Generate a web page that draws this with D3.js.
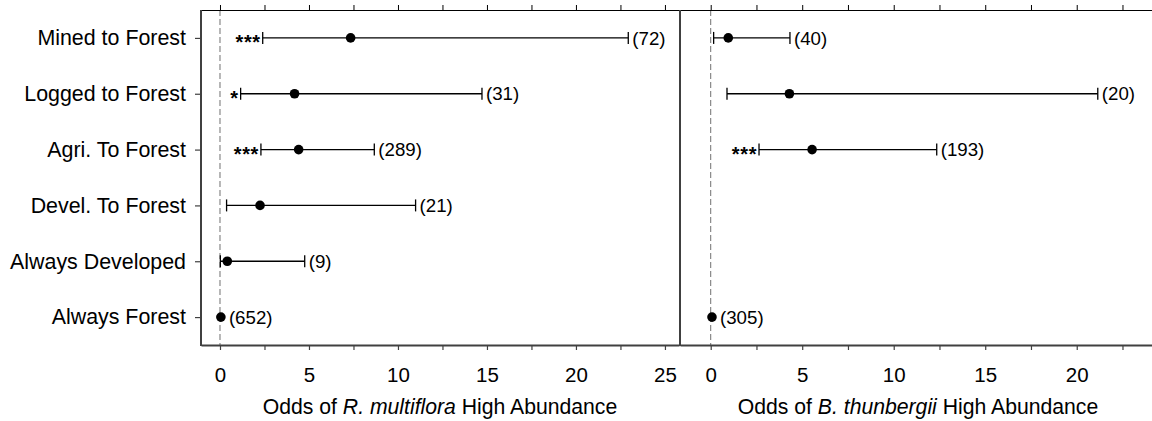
<!DOCTYPE html>
<html><head><meta charset="utf-8">
<script src="https://cdn.jsdelivr.net/npm/d3@7"></script>
<style>body{margin:0;background:#fff}svg{display:block}</style>
</head><body>
<svg id="c" width="1152" height="421"></svg>
<script>
const categories = ["Mined to Forest","Logged to Forest","Agri. To Forest","Devel. To Forest","Always Developed","Always Forest"];
// R. multiflora
const rmOdds  = [7.34, 4.19, 4.42, 2.25, 0.41, 0.05];
const rmLower = [2.40, 1.16, 2.30, 0.37, 0.02, null];
const rmUpper = [22.94, 14.72, 8.67, 10.99, 4.76, null];
const rmN     = ["(72)","(31)","(289)","(21)","(9)","(652)"];
const rmSig   = ["***","*","***","","",""];
// B. thunbergii
const btOdds  = [0.96, 4.30, 5.54, null, null, 0.07];
const btLower = [0.16, 0.89, 2.64, null, null, null];
const btUpper = [4.33, 21.15, 12.35, null, null, null];
const btN     = ["(40)","(20)","(193)","","","(305)"];
const btSig   = ["","","***","","",""];
const xTicks = [0,5,10,15,20,25];

(function(){
const svg = d3.select("#c");
const FONT = "Liberation Sans, Arial, sans-serif";
const plotTop = 10, plotBottom = 345;
const y = d3.scalePoint().domain(categories).range([plotTop, plotBottom]).padding(0.5);

const panels = [
  {odds: rmOdds, lo: rmLower, hi: rmUpper, n: rmN, sig: rmSig,
   x: d3.scaleLinear().domain([-1.067, 25.79]).range([201, 679]),
   title: "R. multiflora", maxTick: 25, titleC: 440},
  {odds: btOdds, lo: btLower, hi: btUpper, n: btN, sig: btSig,
   x: d3.scaleLinear().domain([-1.678, 24.55]).range([680, 1160]),
   title: "B. thunbergii", maxTick: 22.5, titleC: 918}
];

panels.forEach((p, pi) => {
  const g = svg.append("g");
  const x = p.x;
  const [x0, x1] = x.range();
  const minor = d3.range(0, p.maxTick + 0.01, 2.5);
  g.append("line").attr("x1", x(0)).attr("x2", x(0)).attr("y1", plotTop).attr("y2", plotBottom)
    .attr("stroke", "#707070").attr("stroke-width", 1).attr("stroke-dasharray", "6,3");
  const topAx = d3.axisTop(x).tickValues(minor).tickSize(5).tickFormat("").tickSizeOuter(0);
  const ta = g.append("g").attr("transform", `translate(0,${plotTop})`).call(topAx);
  ta.select(".domain").attr("stroke", "#000").attr("stroke-width", 1);
  ta.selectAll(".tick line").attr("stroke", "#000").attr("stroke-width", 1);
  const botAx = d3.axisBottom(x).tickValues(minor).tickSize(5).tickSizeOuter(0)
    .tickFormat(d => xTicks.includes(d) ? d3.format("d")(d) : "");
  const ba = g.append("g").attr("transform", `translate(0,${plotBottom})`).call(botAx);
  ba.select(".domain").attr("stroke", "#404040").attr("stroke-width", 2);
  ba.selectAll(".tick line").attr("stroke", "#404040").attr("stroke-width", 1.2);
  ba.selectAll(".tick text").attr("font-family", FONT).attr("font-size", 20.5)
    .attr("fill", "#000").attr("y", 22).attr("dy", "0.71em");
  g.append("line").attr("x1", x0).attr("x2", x0).attr("y1", plotTop).attr("y2", plotBottom + 1)
    .attr("stroke", "#404040").attr("stroke-width", 2);

  const t = g.append("text").attr("x", p.titleC)
    .attr("y", 414).attr("text-anchor", "middle")
    .attr("font-family", FONT).attr("font-size", 21.2).attr("fill", "#000");
  t.append("tspan").text("Odds of ");
  t.append("tspan").attr("font-style", "italic").text(p.title);
  t.append("tspan").text(" High Abundance");

  categories.forEach((c, i) => {
    const cy = y(c);
    if (p.odds[i] == null) return;
    if (p.lo[i] != null) {
      g.append("line").attr("x1", x(p.lo[i])).attr("x2", x(p.hi[i])).attr("y1", cy).attr("y2", cy)
        .attr("stroke", "#000").attr("stroke-width", 1.3);
      [p.lo[i], p.hi[i]].forEach(v => {
        g.append("line").attr("x1", x(v)).attr("x2", x(v)).attr("y1", cy - 6).attr("y2", cy + 6)
          .attr("stroke", "#000").attr("stroke-width", 1.3);
      });
    }
    g.append("circle").attr("cx", x(p.odds[i])).attr("cy", cy).attr("r", 4.8).attr("fill", "#000");
    const nx = p.hi[i] != null ? x(p.hi[i]) + 4 : x(p.odds[i]) + 8;
    if (p.n[i]) g.append("text").attr("x", nx).attr("y", cy).attr("dy", "0.36em")
      .attr("font-family", FONT).attr("font-size", 18.7).attr("fill", "#000").text(p.n[i]);
    if (p.sig[i]) g.append("text").attr("x", x(p.lo[i]) - 2).attr("y", cy + 11)
      .attr("text-anchor", "end").attr("font-family", FONT).attr("font-size", 20)
      .attr("letter-spacing", 0.6).attr("font-weight", "bold").attr("fill", "#000").text(p.sig[i]);
  });
});

const yAx = d3.axisLeft(y).tickSize(6).tickSizeOuter(0).tickPadding(9);
const ya = svg.append("g").attr("transform", "translate(201,0)").call(yAx);
ya.select(".domain").remove();
ya.selectAll(".tick line").attr("stroke", "#404040").attr("stroke-width", 1.2);
ya.selectAll(".tick text").attr("font-family", FONT).attr("font-size", 21.4).attr("fill", "#000");
})();
</script>
</body></html>
